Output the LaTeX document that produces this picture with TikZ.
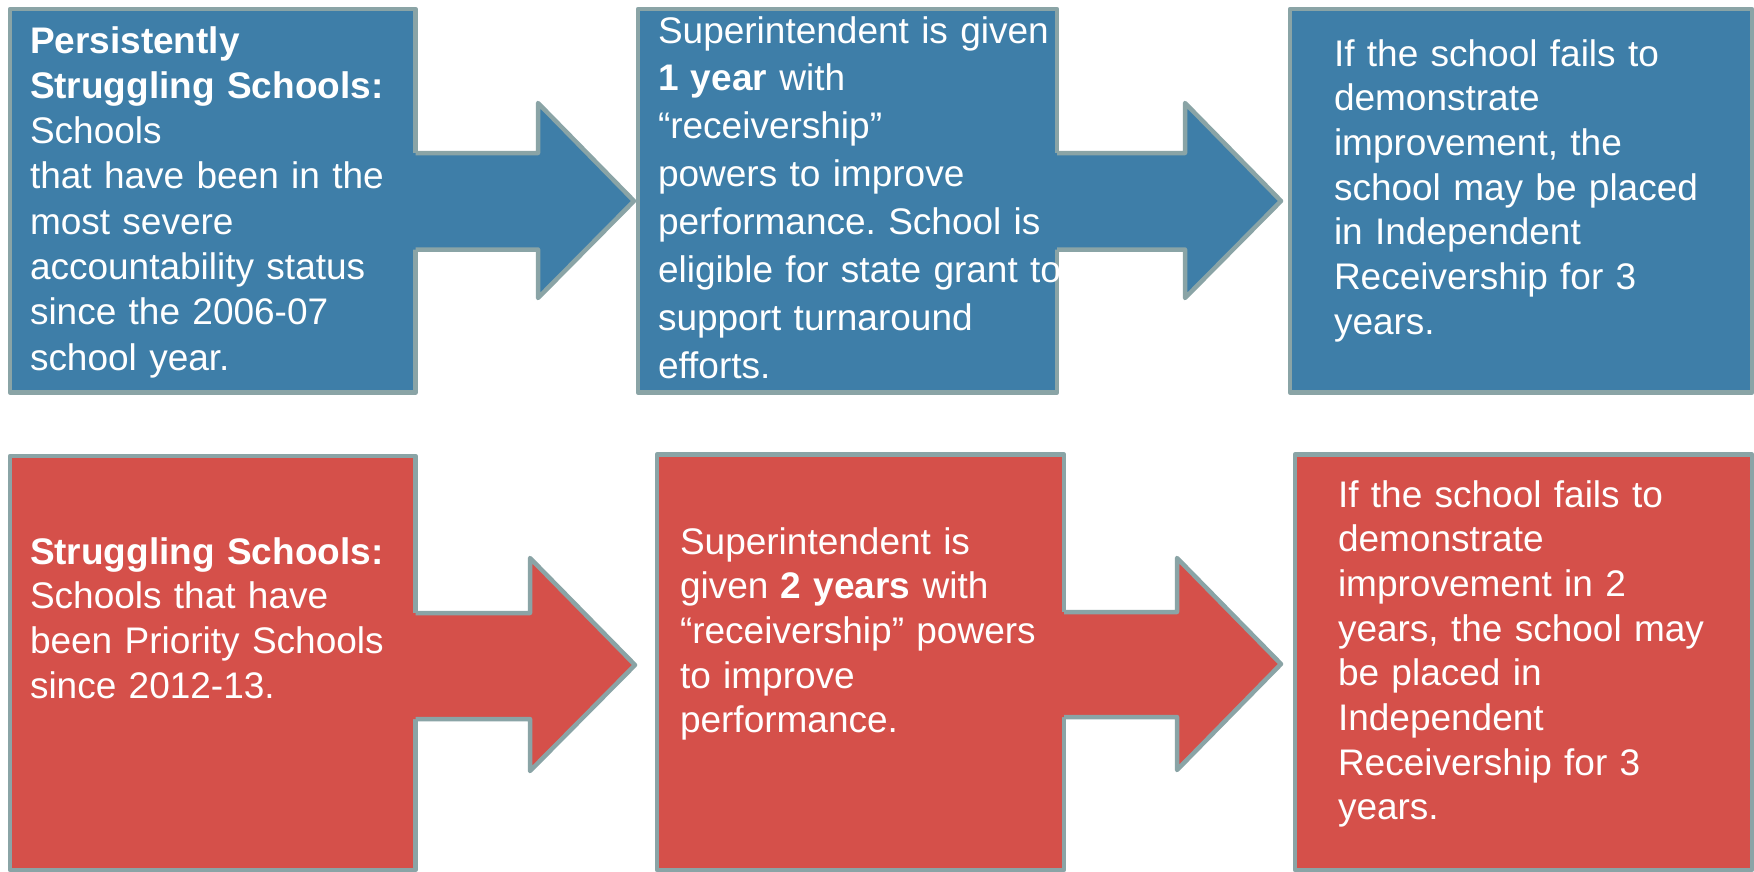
\documentclass[tikz,border=0pt]{standalone}
\usepackage{fontspec}
\setmainfont{Liberation Sans}
\frenchspacing
\definecolor{boxblue}{HTML}{3E7EA8}
\definecolor{boxred}{HTML}{D5504A}
\definecolor{rimgray}{HTML}{8AA4A6}
\tikzset{
  box/.style={rectangle, draw=rimgray, line width=4.5pt, line join=round, inner sep=0pt, outer sep=0pt, anchor=north west},
  bluebox/.style={box, fill=boxblue},
  redbox/.style={box, fill=boxred},
  rim/.style={draw=rimgray, line width=4.5pt, line join=round},
  txt/.style={anchor=base west, inner sep=0pt, outer sep=0pt, text=white, align=left, text width=#1},
  txt/.default=440pt
}
\newcommand{\fs}[1]{\fontsize{37}{#1}\selectfont\frenchspacing}
\begin{document}
\begin{tikzpicture}[x=1pt,y=-1pt]
\clip (0,0) rectangle (1754,871);
\fill[white] (0,0) rectangle (1754,871);

% ---- top row boxes
\node[bluebox, minimum width=405.5pt, minimum height=383.5pt] (b1) at (10,9) {};
\node[bluebox, minimum width=419pt, minimum height=383.5pt] (b2) at (638,9) {};
\node[bluebox, minimum width=462pt, minimum height=383.5pt] (b3) at (1290,9) {};

% ---- bottom row boxes
\node[redbox, minimum width=405.5pt, minimum height=414pt] (b4) at (10,456) {};
\node[redbox, minimum width=407pt, minimum height=415.5pt] (b5) at (657,454.5) {};
\node[redbox, minimum width=457pt, minimum height=415.5pt] (b6) at (1295,454.5) {};

% ---- arrow 1 (blue)
\coordinate (a1s) at (415.5,153); \coordinate (a1b) at (538,153);
\coordinate (a1h) at (538,103);   \coordinate (a1t) at (634,201);
\coordinate (a1l) at (538,298);   \coordinate (a1c) at (538,249.5);
\coordinate (a1e) at (415.5,249.5);
\fill[boxblue] ([xshift=-6pt]a1s) -- (a1b) -- (a1h) -- (a1t) -- (a1l) -- (a1c) -- ([xshift=-6pt]a1e) -- cycle;
\draw[rim] (a1s) -- (a1b) -- (a1h) -- (a1t) -- (a1l) -- (a1c) -- (a1e);

% ---- arrow 2 (blue)
\coordinate (a2s) at (1057,153); \coordinate (a2b) at (1185,153);
\coordinate (a2h) at (1185,103); \coordinate (a2t) at (1281,201);
\coordinate (a2l) at (1185,298); \coordinate (a2c) at (1185,249.5);
\coordinate (a2e) at (1057,249.5);
\fill[boxblue] ([xshift=-6pt]a2s) -- (a2b) -- (a2h) -- (a2t) -- (a2l) -- (a2c) -- ([xshift=-6pt]a2e) -- cycle;
\draw[rim] (a2s) -- (a2b) -- (a2h) -- (a2t) -- (a2l) -- (a2c) -- (a2e);

% ---- arrow 3 (red)
\coordinate (a3s) at (415.5,613); \coordinate (a3b) at (530,613);
\coordinate (a3h) at (530,558);   \coordinate (a3t) at (635,665);
\coordinate (a3l) at (530,771);   \coordinate (a3c) at (530,719);
\coordinate (a3e) at (415.5,719);
\fill[boxred] ([xshift=-6pt]a3s) -- (a3b) -- (a3h) -- (a3t) -- (a3l) -- (a3c) -- ([xshift=-6pt]a3e) -- cycle;
\draw[rim] (a3s) -- (a3b) -- (a3h) -- (a3t) -- (a3l) -- (a3c) -- (a3e);

% ---- arrow 4 (red)
\coordinate (a4s) at (1064,612); \coordinate (a4b) at (1177,612);
\coordinate (a4h) at (1177,558); \coordinate (a4t) at (1281,664);
\coordinate (a4l) at (1177,770); \coordinate (a4c) at (1177,717);
\coordinate (a4e) at (1064,717);
\fill[boxred] ([xshift=-6pt]a4s) -- (a4b) -- (a4h) -- (a4t) -- (a4l) -- (a4c) -- ([xshift=-6pt]a4e) -- cycle;
\draw[rim] (a4s) -- (a4b) -- (a4h) -- (a4t) -- (a4l) -- (a4c) -- (a4e);

% ---- texts
\node[txt, font=\fs{45.3}] (t1) at (30,53) {\textbf{Persistently}\\\textbf{Struggling Schools:}\\Schools\\that have been in the\\most severe\\accountability status\\since the 2006-07\\school year.};
\node[txt, font=\fs{47.9}] (t2) at (658,43) {Superintendent is given\\\textbf{1 year} with\\“receivership”\\powers to improve\\performance. School is\\eligible for state grant to\\support turnaround\\efforts.};
\node[txt, font=\fs{44.7}] (t3) at (1334,66) {If the school fails to\\demonstrate\\improvement, the\\school may be placed\\in Independent\\Receivership for 3\\years.};
\node[txt, font=\fs{44.7}] (t4) at (30,564) {\textbf{Struggling Schools:}\\Schools that have\\been Priority Schools\\since 2012-13.};
\node[txt, font=\fs{44.7}] (t5) at (680,554) {Superintendent is\\given \textbf{2 years} with\\“receivership” powers\\to improve\\performance.};
\node[txt, font=\fs{44.7}] (t6) at (1338,507) {If the school fails to\\demonstrate\\improvement in 2\\years, the school may\\be placed in\\Independent\\Receivership for 3\\years.};
\end{tikzpicture}
\end{document}
